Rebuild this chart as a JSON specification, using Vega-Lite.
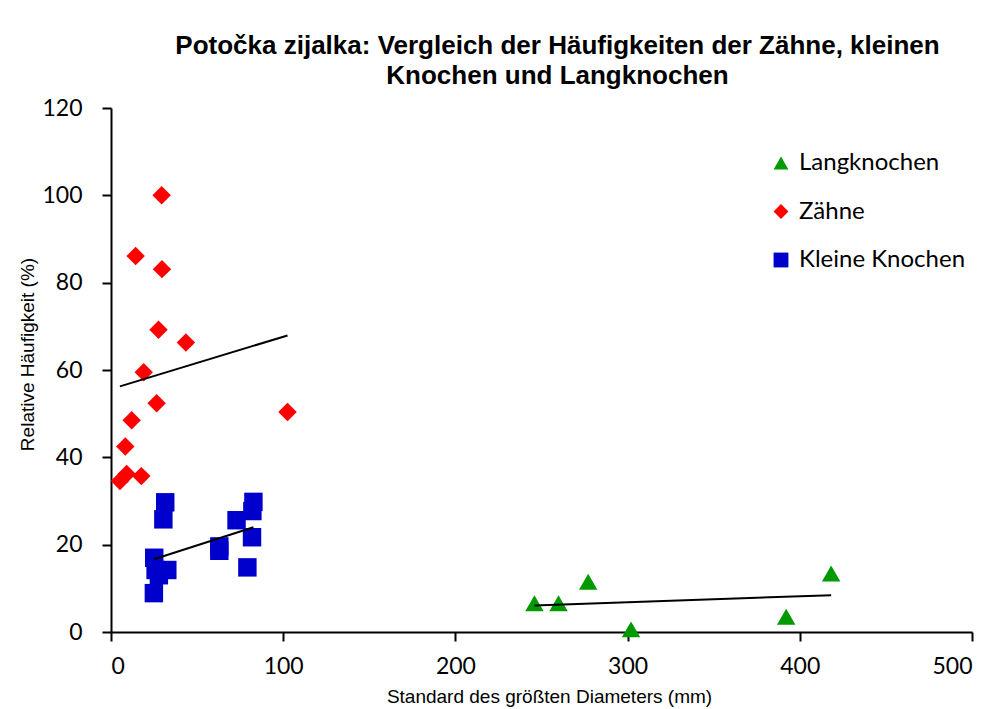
{
  "$schema": "https://vega.github.io/schema/vega-lite/v6.json",
  "autosize": {"type": "none"},
  "width": 861,
  "height": 524,
  "padding": {"left": 111, "top": 108, "right": 31, "bottom": 77},
  "background": "white",
  "title": {
    "text": ["Potočka zijalka: Vergleich der Häufigkeiten der Zähne, kleinen", "Knochen und Langknochen"],
    "font": "Liberation Sans",
    "fontSize": 26,
    "fontWeight": "bold",
    "color": "black",
    "lineHeight": 30,
    "anchor": "middle",
    "dx": 16,
    "offset": 8
  },
  "config": {
    "view": {"stroke": null},
    "axis": {
      "grid": false,
      "domainColor": "black",
      "domainWidth": 2,
      "tickColor": "black",
      "tickWidth": 2,
      "tickSize": 9,
      "labelFont": "Lato",
      "labelFontSize": 23,
      "labelColor": "black",
      "titleFont": "Liberation Sans",
      "titleFontSize": 19,
      "titleFontWeight": "normal",
      "titleColor": "black"
    }
  },
  "data": {
    "values": [
      {"s": "Zähne", "x": 29.4, "y": 100},
      {"s": "Zähne", "x": 14.3, "y": 86.1},
      {"s": "Zähne", "x": 29.6, "y": 83.1},
      {"s": "Zähne", "x": 27.6, "y": 69.2},
      {"s": "Zähne", "x": 43.5, "y": 66.3},
      {"s": "Zähne", "x": 19.0, "y": 59.5},
      {"s": "Zähne", "x": 26.5, "y": 52.4},
      {"s": "Zähne", "x": 102.5, "y": 50.4},
      {"s": "Zähne", "x": 12.0, "y": 48.5},
      {"s": "Zähne", "x": 8.3, "y": 42.5},
      {"s": "Zähne", "x": 9.1, "y": 36.2},
      {"s": "Zähne", "x": 17.6, "y": 35.7},
      {"s": "Zähne", "x": 5.2, "y": 34.6},
      {"s": "Kleine Knochen", "x": 31.5, "y": 29.7},
      {"s": "Kleine Knochen", "x": 30.4, "y": 25.8},
      {"s": "Kleine Knochen", "x": 25.1, "y": 17.0},
      {"s": "Kleine Knochen", "x": 25.9, "y": 14.2},
      {"s": "Kleine Knochen", "x": 32.7, "y": 14.2},
      {"s": "Kleine Knochen", "x": 27.8, "y": 13.0},
      {"s": "Kleine Knochen", "x": 24.9, "y": 8.9},
      {"s": "Kleine Knochen", "x": 62.9, "y": 19.6},
      {"s": "Kleine Knochen", "x": 62.9, "y": 18.6},
      {"s": "Kleine Knochen", "x": 72.9, "y": 25.6},
      {"s": "Kleine Knochen", "x": 82.7, "y": 29.8},
      {"s": "Kleine Knochen", "x": 82.1, "y": 27.7},
      {"s": "Kleine Knochen", "x": 81.9, "y": 21.7},
      {"s": "Kleine Knochen", "x": 79.2, "y": 14.8},
      {"s": "Langknochen", "x": 245.9, "y": 6.6},
      {"s": "Langknochen", "x": 259.9, "y": 6.6},
      {"s": "Langknochen", "x": 277.1, "y": 11.5},
      {"s": "Langknochen", "x": 302.0, "y": 0.6},
      {"s": "Langknochen", "x": 392.1, "y": 3.5},
      {"s": "Langknochen", "x": 418.2, "y": 13.4}
    ]
  },
  "layer": [
    {
      "mark": {"type": "point", "filled": true, "opacity": 1, "size": 340},
      "encoding": {
        "x": {
          "field": "x", "type": "quantitative",
          "scale": {"domain": [0, 500], "nice": false, "zero": true},
          "axis": {"values": [0, 100, 200, 300, 400, 500], "labelPadding": 14, "title": "Standard des größten Diameters (mm)", "titleX": 438, "titlePadding": 9}
        },
        "y": {
          "field": "y", "type": "quantitative",
          "scale": {"domain": [0, 120], "nice": false},
          "axis": {"values": [0, 20, 40, 60, 80, 100, 120], "labelPadding": 20, "title": "Relative Häufigkeit (%)", "titleY": 246, "titlePadding": 4}
        },
        "color": {
          "field": "s", "type": "nominal",
          "scale": {"domain": ["Langknochen", "Zähne", "Kleine Knochen"], "range": ["#009900", "#FF0000", "#0000CC"]},
          "legend": {
            "title": null,
            "orient": "none",
            "legendX": 658,
            "legendY": 43,
            "labelFont": "Lato",
            "labelFontSize": 24,
            "labelColor": "black",
            "labelLimit": 400,
            "symbolSize": 220,
            "symbolOpacity": 1,
            "rowPadding": 24.5,
            "labelOffset": 6
          }
        },
        "shape": {
          "field": "s", "type": "nominal",
          "scale": {"domain": ["Langknochen", "Zähne", "Kleine Knochen"], "range": ["triangle-up", "diamond", "square"]}
        }
      }
    },
    {
      "transform": [{"regression": "y", "on": "x", "groupby": ["s"]}],
      "mark": {"type": "line", "color": "black", "strokeWidth": 2},
      "encoding": {
        "x": {"field": "x", "type": "quantitative"},
        "y": {"field": "y", "type": "quantitative"},
        "detail": {"field": "s", "type": "nominal"}
      }
    }
  ]
}
